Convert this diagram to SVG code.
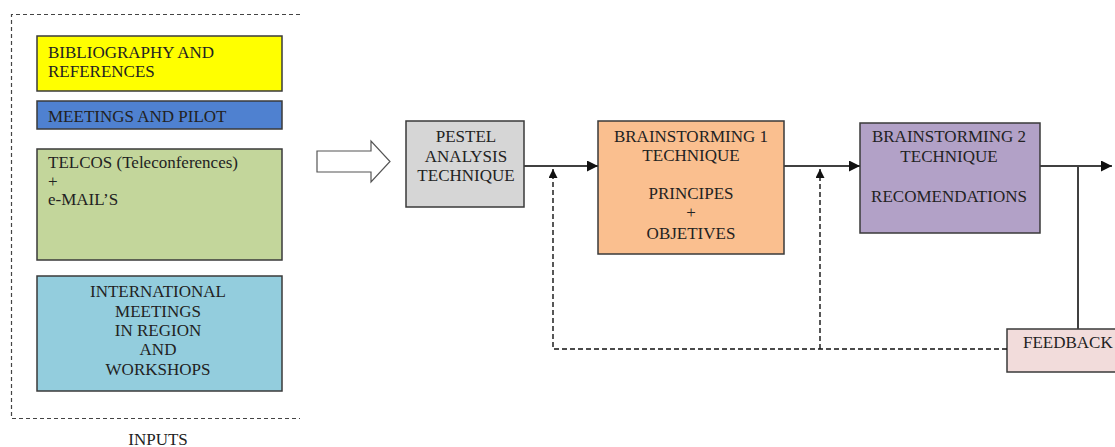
<svg xmlns="http://www.w3.org/2000/svg" width="1115" height="447" viewBox="0 0 1115 447">
<defs>
<style>
text{font-family:"Liberation Serif","Times New Roman",serif;font-size:17px;fill:#222}
.c{text-anchor:middle}
.box{stroke:#3a3a3a;stroke-width:1.5}
.con{stroke:#404040;stroke-width:2;fill:none}
.dash{stroke:#111;stroke-width:1.4;stroke-dasharray:5,3;fill:none}
</style>
<marker id="ah" markerUnits="userSpaceOnUse" markerWidth="11" markerHeight="11" refX="10" refY="5" orient="auto" viewBox="0 0 10 10">
<path d="M0,0 L10,5 L0,10 z" fill="#111"/>
</marker>
<marker id="ahs" markerUnits="userSpaceOnUse" markerWidth="9" markerHeight="9" refX="10" refY="5" orient="auto" viewBox="0 0 10 10">
<path d="M0,0 L10,5 L0,10 z" fill="#111"/>
</marker>
</defs>
<rect width="1115" height="447" fill="#fff"/>

<g id="inputs-frame">
<path d="M300,14.5 H11.5 V418.5 H300" fill="none" stroke="#444" stroke-width="1.2" stroke-dasharray="4,3"/>
<text x="158" y="445" class="c">INPUTS</text>
</g>

<g id="bibliography">
<rect class="box" x="37" y="36" width="245" height="55" fill="#ffff00"/>
<text x="48" y="58">BIBLIOGRAPHY AND</text>
<text x="48" y="77">REFERENCES</text>
</g>

<g id="meetings-pilot">
<rect class="box" x="37" y="101" width="245" height="28" fill="#4f81d0"/>
<text x="48" y="122">MEETINGS AND PILOT</text>
</g>

<g id="telcos">
<rect class="box" x="37" y="149" width="245" height="111" fill="#c3d69b"/>
<text x="48" y="168">TELCOS (Teleconferences)</text>
<text x="48" y="187">+</text>
<text x="48" y="205">e-MAIL’S</text>
</g>

<g id="international">
<rect class="box" x="37" y="276" width="245" height="115" fill="#93cddd"/>
<text x="158" y="297" class="c">INTERNATIONAL</text>
<text x="158" y="317" class="c">MEETINGS</text>
<text x="158" y="336" class="c">IN REGION</text>
<text x="158" y="355" class="c">AND</text>
<text x="158" y="375" class="c">WORKSHOPS</text>
</g>

<g id="big-arrow">
<polygon points="317,151 371,151 371,141 390,161.5 371,182 371,172 317,172" fill="#fff" stroke="#555" stroke-width="1.2"/>
</g>

<g id="pestel">
<rect class="box" x="406" y="121" width="118" height="86" fill="#d6d6d6"/>
<text x="466" y="142" class="c">PESTEL</text>
<text x="466" y="162" class="c">ANALYSIS</text>
<text x="466" y="181" class="c">TECHNIQUE</text>
</g>

<g id="brainstorming1">
<rect class="box" x="598" y="121" width="186" height="133" fill="#fabf8f"/>
<text x="691" y="142" class="c">BRAINSTORMING 1</text>
<text x="691" y="161" class="c">TECHNIQUE</text>
<text x="691" y="199" class="c">PRINCIPES</text>
<text x="691" y="218" class="c">+</text>
<text x="691" y="239" class="c">OBJETIVES</text>
</g>

<g id="brainstorming2">
<rect class="box" x="860" y="123" width="180" height="110" fill="#b2a1c7"/>
<text x="949" y="142" class="c">BRAINSTORMING 2</text>
<text x="949" y="162" class="c">TECHNIQUE</text>
<text x="949" y="202" class="c">RECOMENDATIONS</text>
</g>

<g id="feedback">
<rect class="box" x="1007" y="329" width="120" height="43" fill="#f2dcdb"/>
<text x="1023" y="348">FEEDBACK</text>
</g>

<g id="connectors">
<line class="con" x1="524" y1="166" x2="598" y2="166" marker-end="url(#ah)"/>
<line class="con" x1="784" y1="166" x2="860" y2="166" marker-end="url(#ah)"/>
<line class="con" x1="1040" y1="166" x2="1112" y2="166" marker-end="url(#ah)"/>
<line class="con" x1="1078" y1="166" x2="1078" y2="329"/>
<path class="dash" d="M1007,349 H553 V169" marker-end="url(#ahs)"/>
<path class="dash" d="M820,349 V169" marker-end="url(#ahs)"/>
</g>
</svg>
